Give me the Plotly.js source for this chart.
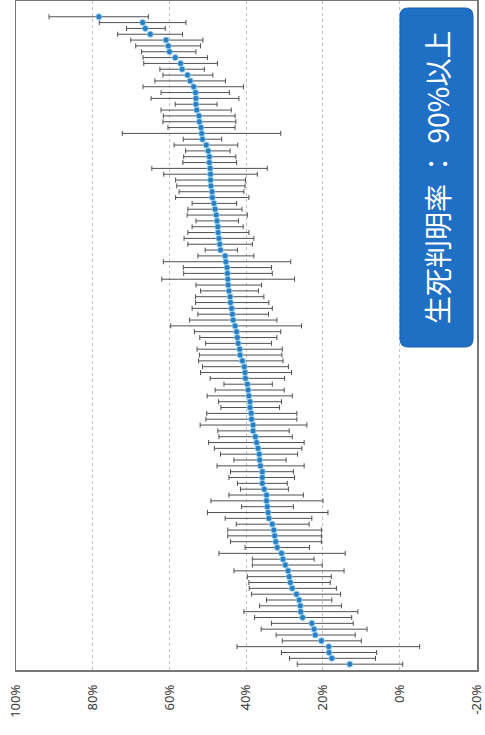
<!DOCTYPE html>
<html>
<head>
<meta charset="utf-8">
<script src="https://cdn.plot.ly/plotly-3.0.1.min.js"></script>
<style>
html,body{margin:0;padding:0;background:#fff;}
#chart{width:485px;height:735px;}
</style>
</head>
<body>
<div id="chart"></div>
<script>
// Rows listed top to bottom as seen in the chart (values in %)
const rate = [78.4,67.0,66.3,65.0,60.9,60.3,60.0,58.5,57.1,56.7,
  55.3,54.6,53.7,53.2,53.1,53.1,52.9,52.3,52.2,51.8,
  51.6,51.4,50.4,49.9,49.6,49.6,49.4,49.3,49.3,49.2,
  48.9,48.8,48.4,48.1,47.8,47.6,47.4,47.3,47.1,46.9,
  46.7,45.5,45.3,45.0,44.9,44.8,44.7,44.5,44.2,44.1,
  43.8,43.6,43.4,42.9,42.5,42.3,42.1,41.7,41.6,41.0,
  40.5,40.3,40.2,39.7,39.5,39.3,39.0,39.0,38.7,38.6,
  38.2,38.2,37.6,37.3,36.9,36.6,36.5,36.3,35.8,35.8,
  35.8,35.3,34.7,34.7,34.5,34.3,34.1,33.2,32.8,32.6,
  32.3,31.9,30.8,30.4,29.8,29.1,28.8,28.5,28.0,26.9,
  26.2,25.9,25.8,25.3,22.9,22.3,22.0,20.4,18.5,18.4,
  17.7,13.0];
const upper = [91.4,78.3,71.2,73.5,70.1,68.8,67.3,66.9,66.7,62.5,
  61.7,63.8,66.9,62.2,64.8,58.5,62.2,61.6,61.7,60.4,
  72.3,56.4,58.8,55.8,56.3,56.5,64.6,61.5,58.4,58.1,
  57.5,58.4,54.1,55.2,55.4,53.1,54.1,55.2,56.2,55.2,
  50.7,52.6,61.6,56.4,56.3,62.0,53.1,51.9,53.2,53.2,
  54.1,52.6,54.8,59.7,53.5,52.1,50.6,52.8,52.2,52.4,
  51.4,51.9,49.4,45.8,48.1,50.2,47.2,46.6,50.3,50.5,
  52.0,47.4,47.1,49.8,48.3,46.7,43.2,47.6,44.1,44.5,
  42.3,41.5,44.5,49.2,41.2,50.1,45.5,42.6,44.8,44.8,
  44.1,40.3,47.1,38.4,38.4,43.2,39.7,39.3,39.2,38.6,
  34.7,36.5,40.6,37.8,33.4,36.1,32.2,30.6,42.4,30.8,
  28.7,26.7];
const lower = [65.5,55.7,61.1,56.6,51.3,51.9,53.1,50.1,47.5,50.9,
  48.7,45.4,40.7,44.4,41.9,47.6,43.9,42.9,42.7,42.9,
  31.0,46.4,42.2,44.2,42.7,42.5,34.5,37.1,40.2,40.3,
  40.6,39.3,42.5,41.1,39.7,42.0,40.8,39.3,38.0,38.4,
  42.3,38.0,28.4,33.4,33.2,27.4,36.0,36.8,35.4,34.1,
  33.2,34.2,32.0,25.6,31.0,32.0,33.4,30.6,30.7,30.4,
  29.0,28.2,30.0,33.2,30.1,28.0,30.8,31.3,26.8,26.8,
  24.2,28.8,28.0,24.9,25.5,26.6,29.6,24.9,27.7,27.4,
  29.3,29.0,25.1,20.0,27.7,18.7,22.9,23.6,20.4,20.4,
  20.4,23.5,14.2,22.3,20.2,14.5,17.8,18.1,16.5,15.4,
  17.7,15.2,10.9,12.5,12.1,8.5,11.6,10.0,-5.2,6.0,
  6.3,-0.8];
const tickVals = [100,80,60,40,20,0,-20];
const tickText = ['100%','80%','60%','40%','20%','0%','-20%'];
const boxText = '生死判明率 ： 90%以上';

const n = rate.length;
const rank = rate.map((v,i)=>n-i);
const errPlus = rate.map((v,i)=>upper[i]-v);
const errMinus = rate.map((v,i)=>v-lower[i]);

const trace = {
  type:'scatter', mode:'markers',
  x: rate, y: rank,
  marker:{color:'#2a7fc2', size:6, line:{color:'#8fcdf0', width:1}},
  error_x:{type:'data', symmetric:false, array:errPlus, arrayminus:errMinus,
           color:'#505050', thickness:1, width:2.5},
  hoverinfo:'skip'
};

// plot area in px: x 16..477, y 1..670
const L = 16, W = 461, H = 669, B = 670;
const bx0 = (400-L)/W, bx1 = (473-L)/W;
const by0 = (B-347)/H, by1 = (B-8)/H;
const rx = 8/W, ry = 8/H;
const path = `M ${bx0+rx} ${by0} L ${bx1-rx} ${by0} Q ${bx1} ${by0} ${bx1} ${by0+ry} L ${bx1} ${by1-ry} Q ${bx1} ${by1} ${bx1-rx} ${by1} L ${bx0+rx} ${by1} Q ${bx0} ${by1} ${bx0} ${by1-ry} L ${bx0} ${by0+ry} Q ${bx0} ${by0} ${bx0+rx} ${by0} Z`;

const layout = {
  width:485, height:735,
  margin:{l:16, r:8, t:1, b:65},
  paper_bgcolor:'#fff', plot_bgcolor:'#fff',
  showlegend:false,
  xaxis:{
    range:[100,-20.15], tickvals:tickVals, ticktext:tickText, tickangle:-90,
    tickfont:{family:'Noto Sans, DejaVu Sans, sans-serif', size:13, color:'#333'},
    ticks:'', ticklabelstandoff:8, ticklabeloverflow:'allow',
    showgrid:true, gridcolor:'#c4c4c4', griddash:'dot', gridwidth:1,
    zeroline:false, showline:true, mirror:true, linecolor:'#777', linewidth:1.5
  },
  yaxis:{
    range:[0,114.7], showticklabels:false, ticks:'', showgrid:false, zeroline:false,
    showline:true, mirror:true, linecolor:'#777', linewidth:1.5
  },
  shapes:[{type:'path', xref:'paper', yref:'paper', path:path,
           fillcolor:'#1f6fc4', line:{color:'#1a5fae', width:1}, layer:'above'}],
  annotations:[{xref:'paper', yref:'paper', x:(bx0+bx1)/2, y:(by0+by1)/2,
    xanchor:'center', yanchor:'middle',
    text:boxText, textangle:-90, showarrow:false,
    font:{family:'Noto Sans CJK JP, sans-serif', size:28, color:'#fff'}}]
};

Plotly.newPlot('chart',[trace],layout,{displayModeBar:false, staticPlot:true});
</script>
</body>
</html>
